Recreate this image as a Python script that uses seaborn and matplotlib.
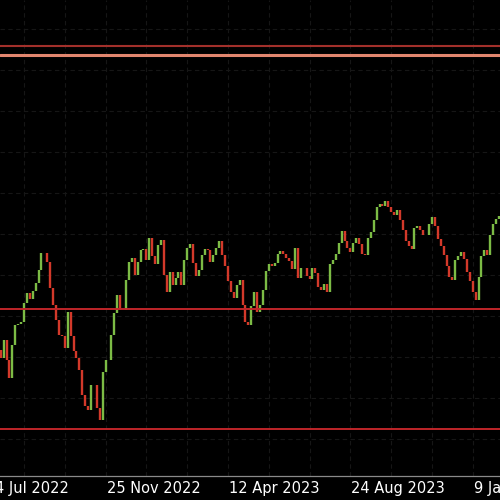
import matplotlib
matplotlib.use("Agg")
import matplotlib.pyplot as plt
from matplotlib.ticker import MultipleLocator
from matplotlib.transforms import blended_transform_factory
import pandas as pd
import seaborn as sns

# ---- data (arbitrary price units) ----
first_open = 150
closes = [142, 160, 140, 122, 155, 175, 176, 178, 197, 207, 201, 209, 217, 230, 247, 247,
          238, 212, 195, 180, 165, 164, 152, 188, 164, 149, 142, 130, 105, 94, 90, 115,
          115, 92, 80, 128, 140, 140, 165, 187, 205, 190, 190, 220, 238, 242, 225, 238,
          250, 251, 240, 262, 244, 236, 255, 260, 225, 208, 228, 215, 222, 228, 215, 240,
          252, 256, 237, 224, 230, 245, 251, 250, 238, 245, 252, 259, 245, 234, 219, 208,
          202, 215, 220, 195, 178, 175, 194, 208, 188, 195, 210, 229, 236, 234, 237, 246,
          249, 246, 242, 239, 231, 252, 222, 232, 232, 224, 221, 232, 227, 213, 210, 216,
          208, 236, 240, 246, 257, 269, 259, 252, 248, 257, 262, 256, 246, 245, 262, 268,
          280, 293, 296, 294, 299, 293, 288, 285, 290, 280, 270, 259, 254, 251, 272, 274,
          270, 265, 265, 276, 283, 274, 261, 254, 245, 234, 223, 220, 240, 244, 248, 241,
          228, 219, 208, 200, 223, 244, 250, 245, 265, 276, 281, 284]
date_labels = ["4 Jul 2022", "25 Nov 2022", "12 Apr 2023", "24 Aug 2023", "9 Jan 2024"]
date_label_pos = [-2.3, 36, 78, 120, 162]
level_lines = [454, 445, 191, 71]
level_colors = ["#a3302b", "#e2866f", "#c0262a", "#c0262a"]
level_widths = [1.5, 2.2, 1.4, 1.4]

# ---- build candle table ----
opens = [first_open] + closes[:-1]
rows = []
for i, (o, c) in enumerate(zip(opens, closes)):
    d = "up" if c >= o else "down"
    rows.append((i, o, d))
    rows.append((i, c, d))
df = pd.DataFrame(rows, columns=["idx", "price", "dir"])

sns.set_theme(style="dark")
plt.rcParams["font.family"] = ["DejaVu Sans"]

fig = plt.figure(figsize=(5, 5), dpi=100, facecolor="black")
ax = fig.add_axes([0, 0.048, 1, 0.952])
ax.set_facecolor("black")

sns.lineplot(data=df, x="idx", y="price", hue="dir", units="idx", estimator=None,
             palette={"up": "#7cbb45", "down": "#d3392a"}, linewidth=1.7,
             legend=False, ax=ax, solid_capstyle="butt", zorder=3)

for lv, col, lw in zip(level_lines, level_colors, level_widths):
    ax.axhline(lv, color=col, linewidth=lw, zorder=4)

ax.set_xlim(-0.237, 171.35)
ax.set_ylim(24, 500)
ax.xaxis.set_major_locator(MultipleLocator(14, offset=8))
ax.yaxis.set_major_locator(MultipleLocator(41, offset=20))
ax.grid(True, color="#161616", linestyle=(0, (4, 3)), linewidth=0.8)
ax.set_axisbelow(True)
ax.tick_params(length=0, labelbottom=False, labelleft=False)
ax.set_xlabel("")
ax.set_ylabel("")
for s in ["top", "left", "right"]:
    ax.spines[s].set_visible(False)
ax.spines["bottom"].set_color("#8a8a8a")
ax.spines["bottom"].set_linewidth(0.9)

tr = blended_transform_factory(ax.transData, ax.transAxes)
for pos, lab in zip(date_label_pos, date_labels):
    ax.text(pos + 0.35, -0.026, lab, transform=tr, ha="left", va="center",
            color="white", fontsize=10.5, clip_on=False)

fig.savefig("out.png", dpi=100, facecolor="black")
